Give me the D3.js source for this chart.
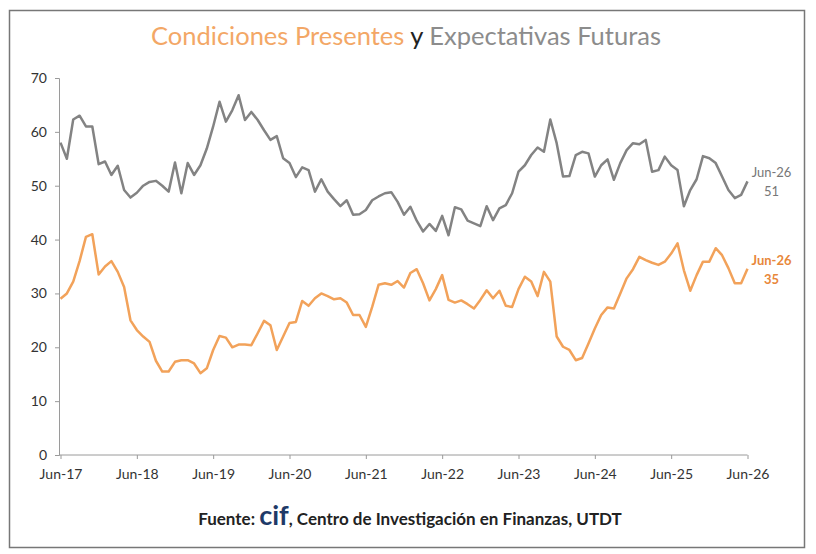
<!DOCTYPE html>
<html>
<head>
<meta charset="utf-8">
<script src="https://cdn.jsdelivr.net/npm/d3@7"></script>
<style>
  body { margin: 0; background: #fff; }
  svg { display: block; font-family: Lato, "Open Sans", sans-serif; }
</style>
</head>
<body>
<svg id="chart" width="816" height="554"></svg>
<script>
// Datos mensuales Jun-17 .. Jun-26 (109 meses)
const tickLabels = ["Jun-17", "Jun-18", "Jun-19", "Jun-20", "Jun-21", "Jun-22", "Jun-23", "Jun-24", "Jun-25", "Jun-26"];
const yTicks = [0, 10, 20, 30, 40, 50, 60, 70];

// Expectativas Futuras (gris)
const expectativas = [
  58, 55, 62.3, 63, 61, 61, 54, 54.5, 52, 53.7, 49.2, 47.8,
  48.7, 50, 50.7, 50.9, 50, 48.9, 54.3, 48.6, 54.2, 52, 53.8, 56.9,
  61, 65.6, 61.9, 64, 66.8, 62.2, 63.7, 62.2, 60.3, 58.5, 59.2, 55.1,
  54.2, 51.6, 53.4, 52.9, 48.9, 51.2, 48.9, 47.5, 46.2, 47.3, 44.6, 44.7,
  45.5, 47.3, 48, 48.6, 48.8, 47, 44.6, 46.1, 43.5, 41.5, 42.9, 41.6,
  44.4, 40.8, 46, 45.6, 43.5, 43, 42.5, 46.2, 43.6, 45.8, 46.4, 48.6,
  52.6, 53.8, 55.7, 57.1, 56.3, 62.3, 57.9, 51.7, 51.8, 55.7, 56.3, 56,
  51.7, 53.8, 54.9, 51.1, 54.2, 56.6, 57.9, 57.7, 58.5, 52.6, 52.9, 55.4,
  53.8, 52.9, 46.2, 49.2, 51.2, 55.5, 55.1, 54.2, 51.7, 49.2, 47.7, 48.3,
  50.8
];

// Condiciones Presentes (naranja)
const presentes = [
  29, 30, 32.2, 36, 40.5, 41, 33.5, 35, 36, 34, 31.2, 25,
  23.2, 22, 21, 17.5, 15.5, 15.5, 17.3, 17.6, 17.6, 17, 15.2, 16.1,
  19.5, 22.1, 21.8, 20, 20.5, 20.5, 20.4, 22.6, 24.9, 24.1, 19.5, 22,
  24.5, 24.7, 28.6, 27.7, 29.1, 30, 29.5, 28.9, 29.1, 28.3, 26, 26,
  23.8, 27.5, 31.6, 31.9, 31.6, 32.3, 31.1, 33.8, 34.5, 31.9, 28.7, 30.8,
  33.4, 28.8, 28.3, 28.7, 28, 27.2, 28.8, 30.6, 29.1, 30.5, 27.7, 27.5,
  30.8, 33.1, 32.2, 29.5, 34, 32.2, 22, 20.1, 19.5, 17.6, 18, 20.7,
  23.5, 26, 27.4, 27.2, 30, 32.8, 34.5, 36.8, 36.2, 35.7, 35.3, 35.9,
  37.4, 39.3, 34.3, 30.5, 33.4, 35.9, 35.9, 38.4, 37.1, 34.7, 31.9, 31.9,
  34.6
];

const grayColor = "#838383";
const orangeColor = "#f2a25a";

const svg = d3.select("#chart");

// Marco exterior
svg.append("rect")
  .attr("x", 9.5).attr("y", 10.5)
  .attr("width", 795).attr("height", 537)
  .attr("fill", "#fff")
  .attr("stroke", "#777")
  .attr("stroke-width", 1.5);

// Escalas
const x = d3.scaleLinear().domain([0, 108]).range([60.5, 747.5]);
const y = d3.scaleLinear().domain([0, 70]).range([455, 78]);

// Titulo
const title = svg.append("text")
  .attr("x", 406).attr("y", 45)
  .attr("text-anchor", "middle")
  .attr("font-size", 25.5);
title.append("tspan").attr("fill", "#f3a766").text("Condiciones Presentes ");
title.append("tspan").attr("fill", "#222").text("y ");
title.append("tspan").attr("fill", "#8c8c8c").text("Expectativas Futuras");

// Eje Y
const yAxis = svg.append("g")
  .attr("transform", "translate(59,0)")
  .call(d3.axisLeft(y).tickValues(yTicks).tickSize(4).tickPadding(8));
yAxis.select(".domain").attr("stroke", "#9a9a9a");
yAxis.selectAll(".tick line").attr("stroke", "#9a9a9a");
yAxis.selectAll(".tick text").attr("font-size", 14).attr("fill", "#333").attr("font-family", "Lato, sans-serif");

// Eje X
const xAxis = svg.append("g")
  .attr("transform", "translate(0,455)")
  .call(d3.axisBottom(x)
    .tickValues(d3.range(0, 109, 12))
    .tickFormat((d, i) => tickLabels[i])
    .tickSize(4).tickSizeOuter(0).tickPadding(10));
xAxis.select(".domain").attr("stroke", "#9a9a9a").attr("d", "M59,0H747.5");
xAxis.selectAll(".tick line").attr("stroke", "#9a9a9a");
xAxis.selectAll(".tick text").attr("font-size", 14).attr("fill", "#333").attr("font-family", "Lato, sans-serif");

// Lineas
const line = d3.line().x((d, i) => x(i)).y(d => y(d));

svg.append("path")
  .datum(expectativas)
  .attr("fill", "none")
  .attr("stroke", grayColor)
  .attr("stroke-width", 2.5)
  .attr("stroke-linejoin", "round")
  .attr("d", line);

svg.append("path")
  .datum(presentes)
  .attr("fill", "none")
  .attr("stroke", orangeColor)
  .attr("stroke-width", 2.5)
  .attr("stroke-linejoin", "round")
  .attr("d", line);

// Etiquetas del ultimo dato
function endLabel(values, color, weight) {
  const last = values[values.length - 1];
  const g = svg.append("text")
    .attr("x", x(108) + 24)
    .attr("y", y(last) - 4)
    .attr("text-anchor", "middle")
    .attr("font-size", 13)
    .attr("font-weight", weight)
    .attr("fill", color);
  g.append("tspan").attr("x", x(108) + 24).text(tickLabels[tickLabels.length - 1]);
  g.append("tspan").attr("x", x(108) + 24).attr("dy", 19).text(d3.format(".0f")(last));
}
endLabel(expectativas, "#777", "normal");
endLabel(presentes, "#e8873a", "bold");

// Fuente
const src = svg.append("text")
  .attr("x", 410).attr("y", 525)
  .attr("text-anchor", "middle")
  .attr("font-size", 17)
  .attr("font-weight", "bold")
  .attr("fill", "#222");
src.append("tspan").text("Fuente: ");
src.append("tspan").attr("font-size", 27).attr("fill", "#1f3a68").text("cif");
src.append("tspan").text(", Centro de Investigación en Finanzas, UTDT");
</script>
</body>
</html>
